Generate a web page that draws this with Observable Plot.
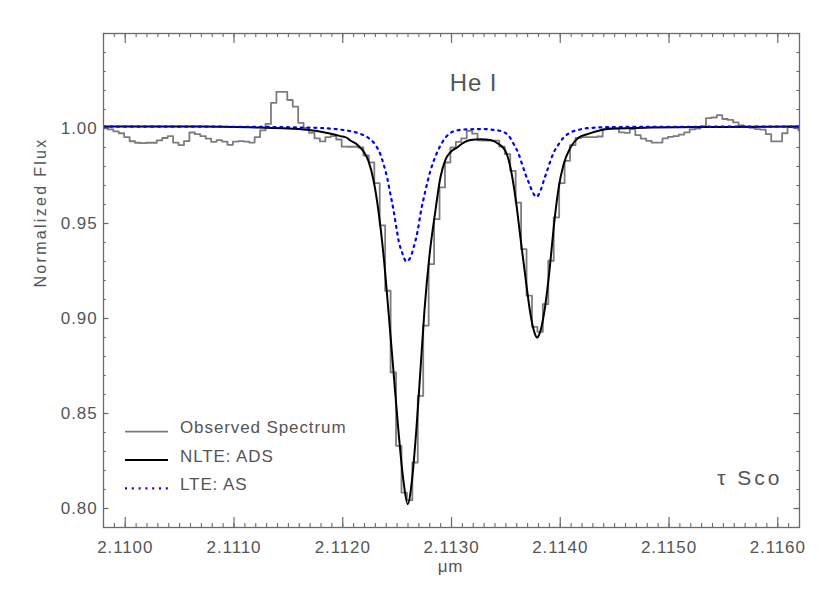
<!DOCTYPE html>
<html>
<head>
<meta charset="utf-8">
<script src="https://cdn.jsdelivr.net/npm/d3@7"></script>
<script src="https://cdn.jsdelivr.net/npm/@observablehq/plot@0.6"></script>
<style>
  html, body { margin: 0; padding: 0; background: #ffffff; }
  #chart svg text { letter-spacing: 0.9px; }
</style>
</head>
<body>
<div id="chart"></div>
<script>
// ---------------- data ----------------
const obsWavelength = [
  2.109815, 2.109865, 2.109915, 2.109965, 2.110015, 2.110065, 2.110115, 2.110165, 2.110215, 2.110265,
  2.110315, 2.110365, 2.110415, 2.110465, 2.110515, 2.110565, 2.110615, 2.110665, 2.110715, 2.110765,
  2.110815, 2.110865, 2.110915, 2.110965, 2.111015, 2.111065, 2.111115, 2.111165, 2.111215, 2.111265,
  2.111315, 2.111365, 2.111415, 2.111465, 2.111515, 2.111565, 2.111615, 2.111665, 2.111715, 2.111765,
  2.111815, 2.111865, 2.111915, 2.111965, 2.112015, 2.112065, 2.112115, 2.112165, 2.112215, 2.112265,
  2.112315, 2.112365, 2.112415, 2.112465, 2.112515, 2.112565, 2.112615, 2.112665, 2.112715, 2.112765,
  2.112815, 2.112865, 2.112915, 2.112965, 2.113015, 2.113065, 2.113115, 2.113165, 2.113215, 2.113265,
  2.113315, 2.113365, 2.113415, 2.113465, 2.113515, 2.113565, 2.113615, 2.113665, 2.113715, 2.113765,
  2.113815, 2.113865, 2.113915, 2.113965, 2.114015, 2.114065, 2.114115, 2.114165, 2.114215, 2.114265,
  2.114315, 2.114365, 2.114415, 2.114465, 2.114515, 2.114565, 2.114615, 2.114665, 2.114715, 2.114765,
  2.114815, 2.114865, 2.114915, 2.114965, 2.115015, 2.115065, 2.115115, 2.115165, 2.115215, 2.115265,
  2.115315, 2.115365, 2.115415, 2.115465, 2.115515, 2.115565, 2.115615, 2.115665, 2.115715, 2.115765,
  2.115815, 2.115865, 2.115915, 2.115965, 2.116015, 2.116065, 2.116115, 2.116165, 2.116215
];
const obsFlux = [
  1.0005, 0.9995, 0.9985, 0.9975, 0.9955, 0.9933, 0.9925, 0.9923, 0.9925, 0.9925,
  0.9937, 0.9950, 0.9960, 0.9926, 0.9912, 0.9934, 0.9979, 0.9970, 0.9960, 0.9947,
  0.9930, 0.9939, 0.9931, 0.9914, 0.9931, 0.9934, 0.9931, 0.9926, 0.9955, 0.9990,
  1.0024, 1.0135, 1.0193, 1.0193, 1.0150, 1.0115, 1.0030, 1.0003, 0.9977, 0.9948,
  0.9932, 0.9955, 0.9960, 0.9942, 0.9905, 0.9904, 0.9904, 0.9900, 0.9858, 0.9822,
  0.9712, 0.9490, 0.9146, 0.8716, 0.8330, 0.8084, 0.8044, 0.8242, 0.8593, 0.8962,
  0.9286, 0.9523, 0.9690, 0.9821, 0.9900, 0.9930, 0.9948, 0.9987, 0.9973, 0.9938,
  0.9936, 0.9936, 0.9936, 0.9905, 0.9865, 0.9777, 0.9610, 0.9365, 0.9120, 0.8956,
  0.8930, 0.9076, 0.9304, 0.9532, 0.9712, 0.9830, 0.9912, 0.9950, 0.9955, 0.9955,
  0.9955, 0.9958, 0.9997, 1.0000, 1.0000, 0.9980, 0.9977, 0.9997, 0.9965, 0.9947,
  0.9935, 0.9926, 0.9926, 0.9948, 0.9956, 0.9960, 0.9968, 0.9980, 0.9995, 1.0000,
  1.0012, 1.0055, 1.0058, 1.0070, 1.0050, 1.0045, 1.0032, 1.0016, 1.0010, 1.0003,
  0.9997, 0.9994, 0.9970, 0.9932, 0.9932, 0.9975, 1.0008, 1.0005, 0.9990
];

const nlteWavelength = [
  2.109800, 2.110690, 2.111150, 2.111454, 2.111672, 2.111870, 2.111978, 2.112040, 2.112070, 2.112134,
  2.112190, 2.112236, 2.112282, 2.112328, 2.112374, 2.112420, 2.112466, 2.112512, 2.112558, 2.112597,
  2.112636, 2.112676, 2.112714, 2.112751, 2.112799, 2.112852, 2.112898, 2.112944, 2.112990, 2.113052,
  2.113112, 2.113174, 2.113266, 2.113358, 2.113434, 2.113496, 2.113542, 2.113588, 2.113634, 2.113680,
  2.113726, 2.113763, 2.113787, 2.113818, 2.113864, 2.113904, 2.113940, 2.113986, 2.114032, 2.114094,
  2.114170, 2.114248, 2.114370, 2.114489, 2.114830, 2.115474, 2.116200
];
const nlteFlux = [
  1.0010, 1.0010, 1.0006, 1.0001, 0.9993, 0.9975, 0.9960, 0.9950, 0.9937, 0.9915,
  0.9880, 0.9830, 0.9730, 0.9567, 0.9339, 0.9040, 0.8725, 0.8409, 0.8146, 0.8023,
  0.8146, 0.8409, 0.8725, 0.9040, 0.9339, 0.9567, 0.9742, 0.9835, 0.9875, 0.9900,
  0.9926, 0.9939, 0.9944, 0.9939, 0.9918, 0.9882, 0.9795, 0.9637, 0.9426, 0.9216,
  0.9023, 0.8926, 0.8900, 0.8935, 0.9076, 0.9269, 0.9480, 0.9690, 0.9813, 0.9900,
  0.9953, 0.9970, 0.9991, 1.0000, 1.0005, 1.0008, 1.0010
];

const lteWavelength = [
  2.109800, 2.111150, 2.111640, 2.111824, 2.111950, 2.112070, 2.112162, 2.112238, 2.112300, 2.112346,
  2.112376, 2.112408, 2.112438, 2.112468, 2.112493, 2.112514, 2.112546, 2.112585, 2.112622, 2.112652,
  2.112689, 2.112720, 2.112760, 2.112806, 2.112861, 2.112914, 2.112974, 2.113036, 2.113128, 2.113296,
  2.113388, 2.113465, 2.113526, 2.113572, 2.113618, 2.113649, 2.113680, 2.113710, 2.113741, 2.113781,
  2.113818, 2.113848, 2.113879, 2.113910, 2.113940, 2.113986, 2.114032, 2.114094, 2.114170, 2.114248,
  2.114554, 2.116200
];
const lteFlux = [
  1.0010, 1.0009, 1.0005, 1.0002, 0.9996, 0.9986, 0.9972, 0.9950, 0.9914, 0.9864,
  0.9811, 0.9741, 0.9655, 0.9567, 0.9479, 0.9409, 0.9347, 0.9300, 0.9321, 0.9374,
  0.9462, 0.9567, 0.9672, 0.9777, 0.9865, 0.9926, 0.9970, 0.9988, 0.9995, 0.9997,
  0.9993, 0.9984, 0.9962, 0.9918, 0.9865, 0.9812, 0.9760, 0.9716, 0.9672, 0.9640,
  0.9672, 0.9725, 0.9777, 0.9830, 0.9874, 0.9918, 0.9953, 0.9979, 0.9993, 1.0002,
  1.0008, 1.0010
];

const xMajorTicks = [2.110, 2.111, 2.112, 2.113, 2.114, 2.115, 2.116];
const yMajorTicks = [0.80, 0.85, 0.90, 0.95, 1.00];
const legendLabels = ["Observed Spectrum", "NLTE: ADS", "LTE: AS"];
const lineLabel = "He I";
const starLabel = "\u03C4 Sco";
const xLabel = "\u03BCm";
const yLabel = "Normalized Flux";

// ---------------- build tables ----------------
const observed = obsWavelength.map((w, i) => ({w, f: obsFlux[i]}));
const nlte = nlteWavelength.map((w, i) => ({w, f: nlteFlux[i]}));
const lte = lteWavelength.map((w, i) => ({w, f: lteFlux[i]}));

const xDomain = [2.1098, 2.1162];
const yDomain = [0.79, 1.05];
const xMinorTicks = d3.range(0, 65).map(i => +(2.1098 + i * 0.0001).toFixed(4));
const yMinorTicks = d3.range(0, 27).map(i => +(0.79 + i * 0.01).toFixed(2));

const W = 830, H = 593;
const mL = 103, mR = 31, mT = 33, mB = 66;
const frameW = W - mL - mR;
const frameH = H - mT - mB;

const axisColor = "#6a6a6a";
const textColor = "#555555";
const obsColor = "#7c7c7c";
const nlteColor = "#000000";
const lteColor = "#0000ff";
const lteDash = "2 4.8";

// inward ticks on all four sides (tick marks with insets so they are short)
const xTick = (ticks, len, sw) => [
  Plot.tickX(ticks, {x: d => d, insetTop: frameH - len, stroke: axisColor, strokeWidth: sw}),
  Plot.tickX(ticks, {x: d => d, insetBottom: frameH - len, stroke: axisColor, strokeWidth: sw})
];
const yTick = (ticks, len, sw) => [
  Plot.tickY(ticks, {y: d => d, insetRight: frameW - len, stroke: axisColor, strokeWidth: sw}),
  Plot.tickY(ticks, {y: d => d, insetLeft: frameW - len, stroke: axisColor, strokeWidth: sw})
];

const plot = Plot.plot({
  width: W,
  height: H,
  marginLeft: mL,
  marginRight: mR,
  marginTop: mT,
  marginBottom: mB,
  x: {domain: xDomain, axis: null},
  y: {domain: yDomain, axis: null},
  style: {fontFamily: "'Liberation Sans', Arial, sans-serif", fontSize: "17px", color: textColor, background: "#ffffff"},
  marks: [
    Plot.line(observed, {x: "w", y: "f", curve: "step", stroke: obsColor, strokeWidth: 1.8, clip: true}),
    Plot.line(nlte, {x: "w", y: "f", curve: "monotone-x", stroke: nlteColor, strokeWidth: 2, clip: true}),
    Plot.line(lte, {x: "w", y: "f", curve: "monotone-x", stroke: lteColor, strokeWidth: 2.2, strokeDasharray: lteDash, clip: true}),
    ...xTick(xMinorTicks, 4, 1.1),
    ...xTick(xMajorTicks, 10, 1.2),
    ...yTick(yMinorTicks, 2.7, 1.1),
    ...yTick(yMajorTicks, 5.5, 1.2),
    Plot.frame({stroke: axisColor, strokeWidth: 1.3}),
    Plot.axisX({anchor: "bottom", ticks: xMajorTicks, tickSize: 0, tickPadding: 13.5, tickFormat: d3.format(".4f"), label: null, fill: textColor, fontSize: 17}),
    Plot.axisY({anchor: "left", ticks: yMajorTicks, tickSize: 0, tickPadding: 6, tickFormat: d3.format(".2f"), label: null, fill: textColor, fontSize: 17}),
    Plot.text([xLabel], {frameAnchor: "bottom", dx: -1, dy: 44, fill: textColor, fontSize: 17}),
    Plot.text([yLabel], {frameAnchor: "left", rotate: -90, dx: -63, dy: 7, fill: textColor, fontSize: 16}),
    Plot.text([lineLabel], {frameAnchor: "top", dx: 22, dy: 40.7, fill: textColor, fontSize: 24}),
    Plot.text([starLabel], {frameAnchor: "bottom-right", textAnchor: "end", dx: -17, dy: -42.7, fill: textColor, fontSize: 21})
  ]
});

// wider letter spacing for the y label and star name, as in the reference
const svg = d3.select(plot);
svg.selectAll("text").each(function () {
  const t = this.textContent;
  if (t === yLabel) d3.select(this).style("letter-spacing", "2.3px");
  if (t === starLabel) d3.select(this).style("letter-spacing", "3px");
});

// ---------------- legend (inside the frame, lower left) ----------------
const legendStyles = [
  {stroke: obsColor, width: 1.8, dash: null},
  {stroke: nlteColor, width: 2, dash: null},
  {stroke: lteColor, width: 2.2, dash: lteDash}
];
const lg = svg.append("g").attr("class", "legend").attr("text-anchor", "start");
legendLabels.forEach((label, i) => {
  const ly = 431.7 + i * 28.3;
  const st = legendStyles[i];
  lg.append("line")
    .attr("x1", 125).attr("x2", 168).attr("y1", ly).attr("y2", ly)
    .attr("stroke", st.stroke).attr("stroke-width", st.width)
    .attr("stroke-dasharray", st.dash);
  lg.append("text")
    .attr("x", 180).attr("y", 433 + i * 28.5)
    .attr("text-anchor", "start")
    .attr("fill", textColor).attr("font-size", 17)
    .text(label);
});

document.getElementById("chart").appendChild(plot);
</script>
</body>
</html>
